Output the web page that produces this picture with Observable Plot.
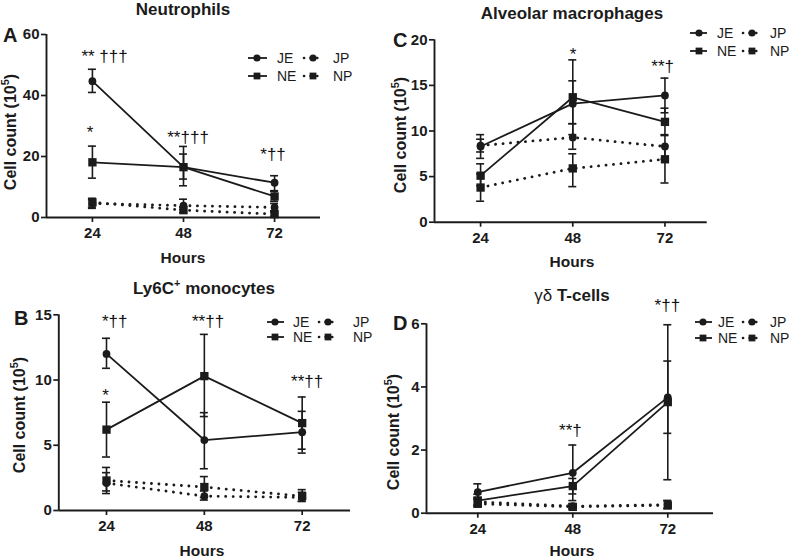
<!DOCTYPE html>
<html><head><meta charset="utf-8">
<script src="https://cdn.jsdelivr.net/npm/d3@7"></script>
<script src="https://cdn.jsdelivr.net/npm/@observablehq/plot@0.6"></script>
<style>
body{margin:0;background:#fff;}
#fig{position:relative;width:800px;height:559px;overflow:hidden;background:#fff;}
#fig svg{position:absolute;overflow:visible;}
</style></head><body><div id="fig"></div>
<script>
// ---- data ----
const hours = [24, 48, 72];
const groups = ["JE", "NE", "JP", "NP"];

// Neutrophils (rows follow groups order)
const neutMean = [[44.7, 16.5, 11.4], [18.1, 16.5, 6.9], [4.6, 3.9, 3.3], [5.0, 2.4, 1.1]];
const neutLow  = [[41.0, 10.4, 8.8], [12.9, 12.6, 5.3], [3.4, 2.6, 2.2], [3.0, 1.6, 0.4]];
const neutHigh = [[48.6, 23.3, 13.7], [23.4, 20.8, 8.6], [5.8, 6.0, 4.6], [6.3, 3.4, 1.8]];
const neutTicks = [0, 20, 40, 60];
const neutNotes = [{label: "** †††", x: 27.2, y: 51.1}, {label: "*", x: 23.4, y: 26.0}, {label: "**†††", x: 49.2, y: 24.3}, {label: "*††", x: 71.6, y: 19.0}];

// Alveolar macrophages
const amMean = [[8.3, 13.0, 13.9], [5.1, 13.7, 11.0], [8.4, 9.3, 8.3], [3.8, 5.9, 6.9]];
const amLow  = [[7.0, 10.8, 12.0], [4.0, 9.6, 9.5], [7.7, 8.0, 6.9], [2.3, 3.9, 4.3]];
const amHigh = [[9.6, 15.5, 15.8], [6.4, 17.8, 12.5], [9.1, 10.8, 9.6], [5.3, 7.5, 8.4]];
const amTicks = [0, 5, 10, 15, 20];
const amNotes = [{label: "*", x: 48.1, y: 17.8}, {label: "**†", x: 71.4, y: 16.5}];

// Ly6C+ monocytes
const monoMean = [[12.0, 5.4, 6.0], [6.2, 10.3, 6.7], [2.1, 1.1, 1.0], [2.3, 1.8, 1.1]];
const monoLow  = [[10.9, 3.2, 4.4], [4.1, 7.2, 4.7], [1.3, 0.8, 0.7], [1.5, 1.0, 0.7]];
const monoHigh = [[13.2, 7.5, 7.6], [8.3, 13.5, 8.7], [2.9, 1.5, 1.4], [3.3, 2.6, 1.6]];
const monoTicks = [0, 5, 10, 15];
const monoNotes = [{label: "*††", x: 26.0, y: 14.1}, {label: "*", x: 23.8, y: 8.4}, {label: "**††", x: 48.9, y: 14.1}, {label: "**††", x: 73.2, y: 9.5}];

// gamma-delta T-cells
const gdMean = [[0.67, 1.28, 3.67], [0.40, 0.86, 3.52], [0.36, 0.22, 0.27], [0.30, 0.20, 0.25]];
const gdLow  = [[0.45, 0.40, 1.06], [0.25, 0.61, 2.53], [0.25, 0.15, 0.15], [0.20, 0.12, 0.15]];
const gdHigh = [[0.93, 2.16, 5.97], [0.60, 1.10, 4.82], [0.50, 0.30, 0.40], [0.45, 0.28, 0.40]];
const gdTicks = [0, 2, 4, 6];
const gdNotes = [{label: "**†", x: 47.4, y: 2.46}, {label: "*††", x: 71.9, y: 6.39}];

// ---- drawing ----
const ink = "#1b1b1b";
const fontFam = "'Liberation Sans', Arial, Helvetica, sans-serif";

function buildRows(means, lows, highs) {
  const rows = [];
  groups.forEach((g, i) => hours.forEach((h, j) => rows.push({group: g, hour: h, mean: means[i][j], lo: lows[i][j], hi: highs[i][j]})));
  return rows;
}

function panel(cfg) {
  const rows = buildRows(cfg.means, cfg.lows, cfg.highs);
  const solid = rows.filter(d => d.group.endsWith("E"));
  const dotted = rows.filter(d => d.group.endsWith("P"));
  const circles = rows.filter(d => d.group.startsWith("J"));
  const squares = rows.filter(d => d.group.startsWith("N"));
  const capOpts = {x1: "hour", x2: "hour", insetLeft: -4, insetRight: -4, stroke: ink, strokeWidth: 1.6};
  const svg = Plot.plot({
    width: cfg.width, height: cfg.height,
    marginTop: cfg.m[0], marginRight: cfg.m[1], marginBottom: cfg.m[2], marginLeft: cfg.m[3],
    x: {domain: cfg.xDomain},
    y: {domain: cfg.yDomain},
    style: {fontFamily: fontFam, color: ink, background: "transparent", overflow: "visible"},
    marks: [
      Plot.axisX({ticks: hours, tickSize: 5, tickPadding: 5, fontSize: 15, fontWeight: "bold", label: null, strokeWidth: 1.7, tickFormat: d => String(d)}),
      Plot.axisY({ticks: cfg.yTicks, tickSize: 5, tickPadding: 2, fontSize: 15, fontWeight: "bold", label: null, strokeWidth: 1.7, tickFormat: d => String(d)}),
      Plot.ruleY([cfg.yDomain[0]], {stroke: ink, strokeWidth: 1.9}),
      Plot.ruleX([cfg.xDomain[0]], {stroke: ink, strokeWidth: 1.9}),
      Plot.line(dotted, {x: "hour", y: "mean", z: "group", stroke: ink, strokeWidth: 2.8, strokeDasharray: "0.1,7.4", strokeLinecap: "round"}),
      Plot.line(solid, {x: "hour", y: "mean", z: "group", stroke: ink, strokeWidth: 1.8}),
      Plot.ruleX(rows, {x: "hour", y1: "lo", y2: "hi", stroke: ink, strokeWidth: 1.6}),
      Plot.ruleY(rows, {y: "lo", ...capOpts}),
      Plot.ruleY(rows, {y: "hi", ...capOpts}),
      Plot.dot(circles, {x: "hour", y: "mean", symbol: "circle", r: 3.9, fill: ink}),
      Plot.dot(squares, {x: "hour", y: "mean", symbol: "square", r: 4.7, fill: ink}),
      Plot.text(cfg.notes, {x: "x", y: "y", text: "label", lineAnchor: "bottom", fontSize: 17, fill: "#111", fontWeight: "normal"})
    ]
  });
  svg.style.left = cfg.left + "px";
  svg.style.top = cfg.top + "px";
  const s = d3.select(svg);

  // title
  const t = s.append("text").attr("x", cfg.title.x).attr("y", cfg.title.y).attr("text-anchor", "middle")
    .attr("font-family", fontFam).attr("font-size", 17).attr("font-weight", "bold").attr("fill", ink);
  cfg.title.parts.forEach(p => {
    const ts = t.append("tspan").text(p.text);
    if (p.sup) ts.attr("dy", -7).attr("font-size", 11);
    if (p.after) ts.attr("dy", 7);
    if (p.normal) ts.attr("font-weight", "normal");
  });

  // panel letter
  s.append("text").attr("x", cfg.letter.x).attr("y", cfg.letter.y).attr("text-anchor", "start").attr("font-family", fontFam)
    .attr("font-size", 20).attr("font-weight", "bold").attr("fill", ink).text(cfg.letter.text);

  // y label
  const yl = s.append("text").attr("transform", `translate(${cfg.ylabel.x},${cfg.ylabel.y}) rotate(-90)`)
    .attr("text-anchor", "middle").attr("dominant-baseline", "middle").attr("font-family", fontFam)
    .attr("font-size", 16).attr("font-weight", "bold").attr("fill", ink);
  yl.append("tspan").text("Cell count (10");
  yl.append("tspan").attr("dy", -6).attr("font-size", 11).text("5");
  yl.append("tspan").attr("dy", 6).text(")");

  // x label
  s.append("text").attr("x", cfg.hours.x).attr("y", cfg.hours.y).attr("text-anchor", "middle")
    .attr("font-family", fontFam).attr("font-size", 15.5).attr("font-weight", "bold").attr("fill", ink).text("Hours");

  // legend
  const L = cfg.legend;
  groups.forEach(g => {
    const row = g.startsWith("J") ? 0 : 1;
    const col = g.endsWith("E") ? 0 : 1;
    const c = L.cols[col];
    const y = L.rows[row];
    const gg = s.append("g");
    gg.append("line").attr("x1", c.x0).attr("x2", c.x1).attr("y1", y).attr("y2", y).attr("stroke", ink)
      .attr("stroke-width", col === 0 ? 1.8 : 2.6)
      .attr("stroke-dasharray", col === 0 ? null : "0.1,6.5").attr("stroke-linecap", col === 0 ? "butt" : "round");
    gg.append("path").attr("transform", `translate(${c.m},${y})`)
      .attr("d", d3.symbol().type(row === 0 ? d3.symbolCircle : d3.symbolSquare).size(row === 0 ? 40 : 46)())
      .attr("fill", ink);
    gg.append("text").attr("x", c.t).attr("y", y).attr("dy", "0.35em").attr("text-anchor", "start").attr("font-family", fontFam)
      .attr("font-size", 14).attr("fill", ink).text(g);
  });
  document.getElementById("fig").appendChild(svg);
}

panel({
  left: 0, top: 0, width: 388, height: 270, m: [34, 68, 53, 46],
  xDomain: [11.9, 84.1], yDomain: [0, 60], yTicks: neutTicks,
  means: neutMean, lows: neutLow, highs: neutHigh, notes: neutNotes,
  title: {x: 183, y: 15, parts: [{text: "Neutrophils"}]},
  letter: {x: 3, y: 42, text: "A"},
  ylabel: {x: 12, y: 132},
  hours: {x: 183, y: 263},
  legend: {rows: [58, 76], cols: [{x0: 248, x1: 267, m: 257, t: 277}, {x0: 304, x1: 322, m: 313, t: 333}]}
});

panel({
  left: 388, top: 0, width: 412, height: 270, m: [39.3, 93.3, 48.3, 46],
  xDomain: [12.0, 83.0], yDomain: [0, 20], yTicks: amTicks,
  means: amMean, lows: amLow, highs: amHigh, notes: amNotes,
  title: {x: 184, y: 19, parts: [{text: "Alveolar macrophages"}]},
  letter: {x: 5, y: 47, text: "C"},
  ylabel: {x: 14, y: 135},
  hours: {x: 184, y: 267},
  legend: {rows: [33, 51], cols: [{x0: 302, x1: 319, m: 311, t: 329}, {x0: 355, x1: 374, m: 364, t: 382}]}
});

panel({
  left: 0, top: 270, width: 388, height: 289, m: [44.3, 38, 49, 58.3],
  xDomain: [12.3, 83.85], yDomain: [0, 15], yTicks: monoTicks,
  means: monoMean, lows: monoLow, highs: monoHigh, notes: monoNotes,
  title: {x: 204, y: 24, parts: [{text: "Ly6C"}, {text: "+", sup: true}, {text: " monocytes", after: true}]},
  letter: {x: 14, y: 55, text: "B"},
  ylabel: {x: 21, y: 145},
  hours: {x: 202, y: 286},
  legend: {rows: [52, 67], cols: [{x0: 267, x1: 284, m: 275, t: 293}, {x0: 319, x1: 337, m: 328, t: 353}]}
});

panel({
  left: 388, top: 270, width: 412, height: 289, m: [53.3, 87, 46.3, 38],
  xDomain: [11.04, 83.55], yDomain: [0, 6], yTicks: gdTicks,
  means: gdMean, lows: gdLow, highs: gdHigh, notes: gdNotes,
  title: {x: 184, y: 31, parts: [{text: "γδ", normal: true}, {text: " T-cells"}]},
  letter: {x: 5, y: 60, text: "D"},
  ylabel: {x: 7, y: 162},
  hours: {x: 184, y: 286},
  legend: {rows: [52, 68], cols: [{x0: 307, x1: 324, m: 315, t: 330}, {x0: 355, x1: 374, m: 364, t: 382}]}
});
</script>
</body></html>
